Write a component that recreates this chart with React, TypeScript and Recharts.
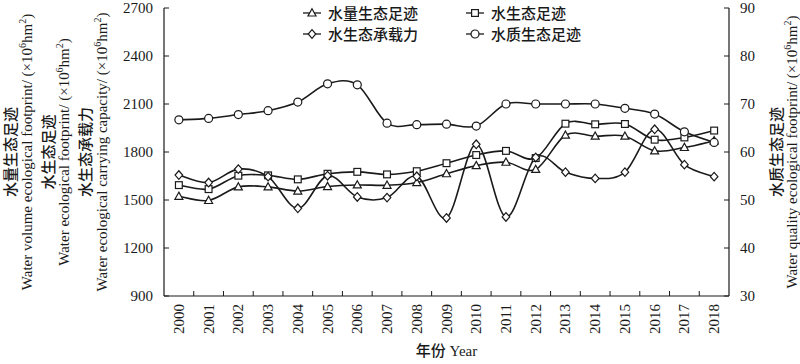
import React from "react";
import { LineChart, Line, XAxis, YAxis, Legend } from "recharts";

const years = [2000, 2001, 2002, 2003, 2004, 2005, 2006, 2007, 2008, 2009, 2010, 2011, 2012, 2013, 2014, 2015, 2016, 2017, 2018];
// left axis (×10^6 hm²)
const volumeFootprint = [1523, 1497, 1582, 1582, 1556, 1584, 1594, 1592, 1609, 1664, 1715, 1736, 1691, 1905, 1899, 1899, 1807, 1828, 1870];
const waterFootprint = [1593, 1568, 1652, 1654, 1629, 1664, 1676, 1660, 1680, 1730, 1781, 1807, 1762, 1977, 1973, 1975, 1877, 1891, 1934];
const carryingCapacity = [1656, 1609, 1693, 1646, 1448, 1652, 1519, 1515, 1648, 1388, 1848, 1394, 1766, 1674, 1635, 1674, 1942, 1721, 1646];
// right axis
const qualityFootprint = [66.7, 67.0, 67.8, 68.6, 70.4, 74.2, 74.0, 66.0, 65.7, 65.8, 65.4, 70.0, 70.0, 70.0, 70.0, 69.1, 67.9, 64.2, 62.0];

const leftTicks = [900, 1200, 1500, 1800, 2100, 2400, 2700];
const rightTicks = [30, 40, 50, 60, 70, 80, 90];
// year labels plus tick marks half-way between years
const xTicks = years.flatMap((y, i) => (i < years.length - 1 ? [y, y + 0.5] : [y]));

const data = years.map((year, i) => ({
  year,
  volume: volumeFootprint[i],
  water: waterFootprint[i],
  capacity: carryingCapacity[i],
  quality: qualityFootprint[i],
}));

const SERIF = '"Liberation Serif", "Times New Roman", serif';
const CJK = '"Noto Sans CJK SC", "Noto Sans", sans-serif';
const INK = "#1a1a1a";

// excel-like smoothing (catmull-rom -> bezier)
const smoothCurve: any = (context: any) => {
  let pts: number[][] = [];
  return {
    areaStart() {},
    areaEnd() {},
    lineStart() {
      pts = [];
    },
    point(x: number, y: number) {
      pts.push([+x, +y]);
    },
    lineEnd() {
      if (!pts.length) return;
      context.moveTo(pts[0][0], pts[0][1]);
      for (let i = 0; i < pts.length - 1; i++) {
        const p0 = pts[i - 1] || pts[i];
        const p1 = pts[i];
        const p2 = pts[i + 1];
        const p3 = pts[i + 2] || p2;
        context.bezierCurveTo(
          p1[0] + (p2[0] - p0[0]) / 6,
          p1[1] + (p2[1] - p0[1]) / 6,
          p2[0] - (p3[0] - p1[0]) / 6,
          p2[1] - (p3[1] - p1[1]) / 6,
          p2[0],
          p2[1]
        );
      }
    },
  };
};

const Marker = ({ shape, cx, cy }: { shape: string; cx: number; cy: number }) => {
  const common = { fill: "#fff", stroke: INK, strokeWidth: 1.2 };
  if (shape === "triangle")
    return <polygon points={`${cx},${cy - 4.2} ${cx + 4},${cy + 3} ${cx - 4},${cy + 3}`} {...common} />;
  if (shape === "square") return <rect x={cx - 3.4} y={cy - 3.4} width={6.8} height={6.8} {...common} />;
  if (shape === "diamond")
    return <polygon points={`${cx},${cy - 4.3} ${cx + 3.8},${cy} ${cx},${cy + 4.3} ${cx - 3.8},${cy}`} {...common} />;
  return <circle cx={cx} cy={cy} r={4} {...common} />;
};

const dotOf = (shape: string) => (p: any) => (
  <g key={`${shape}-${p.index}`}>
    <Marker shape={shape} cx={p.cx} cy={p.cy} />
  </g>
);

const seriesList = [
  { key: "volume", name: "水量生态足迹", shape: "triangle", axis: "left" },
  { key: "water", name: "水生态足迹", shape: "square", axis: "left" },
  { key: "capacity", name: "水生态承载力", shape: "diamond", axis: "left" },
  { key: "quality", name: "水质生态足迹", shape: "circle", axis: "right" },
];

const LegendBlock = () => (
  <div style={{ display: "grid", gridTemplateColumns: "163px 140px", rowGap: 1 }}>
    {seriesList.map((s) => (
      <div key={s.key} style={{ display: "flex", alignItems: "center", height: 20 }}>
        <svg width={20} height={12} style={{ overflow: "visible" }}>
          <line x1={1} y1={6} x2={19} y2={6} stroke={INK} strokeWidth={1.3} />
          <Marker shape={s.shape} cx={10} cy={6} />
        </svg>
        <span style={{ marginLeft: 6, fontFamily: CJK, fontWeight: 500, fontSize: 15, color: INK, lineHeight: "20px" }}>
          {s.name}
        </span>
      </div>
    ))}
  </div>
);

const Unit = () => (
  <>
    <tspan dy={-5} fontSize={10}>6</tspan>
    <tspan dy={5}>hm</tspan>
    <tspan dy={-5} fontSize={10}>2</tspan>
    <tspan dy={5}>)</tspan>
  </>
);

const VText = ({ x, y, cjk, children }: any) => (
  <text
    x={x}
    y={y}
    transform={`rotate(-90 ${x} ${y})`}
    textAnchor="middle"
    dominantBaseline="central"
    fontFamily={cjk ? CJK : SERIF}
    fontWeight={cjk ? 500 : 400}
    fontSize={15}
    fill={INK}
  >
    {children}
  </text>
);

const LeftTitles = (props: any) => {
  const vb = props.viewBox || { x: 0, y: 8, height: 288 };
  const cy = vb.y + vb.height / 2;
  const x0 = vb.x;
  return (
    <g>
      <VText x={x0 + 9} y={cy} cjk>水量生态足迹</VText>
      <VText x={x0 + 27} y={cy}>
        Water volume ecological footprint/ (×10<Unit />
      </VText>
      <VText x={x0 + 47} y={cy} cjk>水生态足迹</VText>
      <VText x={x0 + 64} y={cy}>
        Water ecological footprint/ (×10<Unit />
      </VText>
      <VText x={x0 + 84} y={cy} cjk>水生态承载力</VText>
      <VText x={x0 + 102} y={cy}>
        Water ecological carrying capacity/ (×10<Unit />
      </VText>
    </g>
  );
};

const RightTitles = (props: any) => {
  const vb = props.viewBox || { x: 729, y: 8, height: 288 };
  const cy = vb.y + vb.height / 2;
  return (
    <g>
      <VText x={vb.x + 46} y={cy} cjk>水质生态足迹</VText>
      <VText x={vb.x + 63} y={cy}>
        Water quality ecological footprint/ (×10<Unit />
      </VText>
    </g>
  );
};

// integer values -> rotated year label; half values -> inward tick mark
const YearTick = ({ x, y, payload }: any) => {
  const v = payload.value;
  if (!Number.isInteger(v)) {
    return <line x1={x} y1={y - 8} x2={x} y2={y - 13} stroke={INK} strokeWidth={1} />;
  }
  return (
    <text
      x={x}
      y={y}
      transform={`rotate(-90 ${x} ${y})`}
      textAnchor="end"
      dominantBaseline="central"
      fontFamily={SERIF}
      fontSize={15}
      fill={INK}
    >
      {v}
    </text>
  );
};

const XTitle = (props: any) => {
  const vb = props.viewBox || { x: 164, y: 296, width: 565, height: 68 };
  const cx = vb.x + vb.width / 2;
  return (
    <text x={cx} y={vb.y + 60} textAnchor="middle" fontSize={15} fill={INK}>
      <tspan fontFamily={CJK} fontWeight={500}>年份</tspan>
      <tspan fontFamily={SERIF}> Year</tspan>
    </text>
  );
};

const tickStyle = { fill: INK, fontSize: 15, fontFamily: SERIF };
const axisLine = { stroke: INK, strokeWidth: 1.2 };

export default function App() {
  return (
    <div style={{ position: "absolute", left: 0, top: 0, width: 800, height: 364, background: "#fff" }}>
      <LineChart width={800} height={364} data={data} margin={{ top: 8, right: 0, bottom: 0, left: 0 }}>
        <XAxis
          xAxisId="x"
          type="number"
          dataKey="year"
          domain={[1999.5, 2018.5]}
          allowDataOverflow
          ticks={xTicks}
          interval={0}
          tick={<YearTick />}
          tickLine={false}
          tickSize={0}
          tickMargin={8}
          axisLine={axisLine}
          height={68}
          label={{ content: (p: any) => <XTitle {...p} /> }}
        />
        <YAxis
          yAxisId="left"
          domain={[900, 2700]}
          ticks={leftTicks}
          interval={0}
          width={164}
          tick={tickStyle}
          tickSize={-5}
          tickMargin={16}
          tickLine={{ stroke: INK, strokeWidth: 1 }}
          axisLine={axisLine}
          label={{ content: (p: any) => <LeftTitles {...p} /> }}
        />
        <YAxis
          yAxisId="right"
          orientation="right"
          domain={[30, 90]}
          ticks={rightTicks}
          interval={0}
          width={71}
          tick={tickStyle}
          tickSize={-5}
          tickMargin={16}
          tickLine={{ stroke: INK, strokeWidth: 1 }}
          axisLine={axisLine}
          label={{ content: (p: any) => <RightTitles {...p} /> }}
        />
        <Legend
          verticalAlign="middle"
          align="center"
          layout="horizontal"
          wrapperStyle={{ top: 3, left: 302, width: 310 }}
          content={() => <LegendBlock />}
        />
        {seriesList.map((s) => (
          <Line
            key={s.key}
            xAxisId="x"
            yAxisId={s.axis}
            dataKey={s.key}
            name={s.name}
            type={smoothCurve}
            stroke={INK}
            strokeWidth={1.6}
            dot={dotOf(s.shape)}
            activeDot={false}
            isAnimationActive={false}
          />
        ))}
      </LineChart>
    </div>
  );
}
